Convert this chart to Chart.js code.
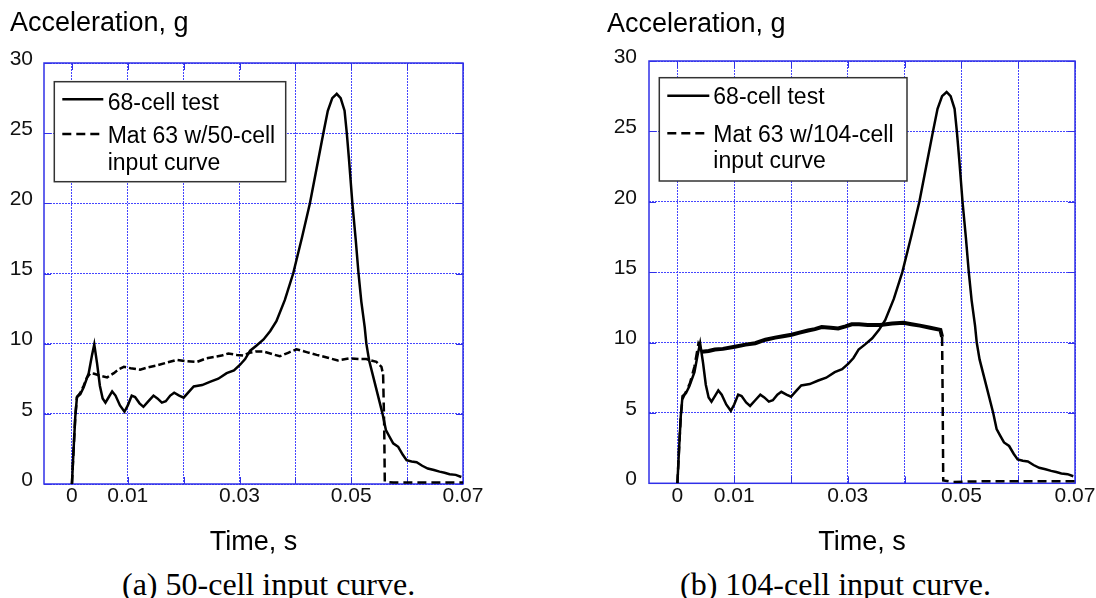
<!DOCTYPE html>
<html>
<head>
<meta charset="utf-8">
<script src="https://cdn.jsdelivr.net/npm/chart.js@4.4.1/dist/chart.umd.min.js"></script>
<style>
body { margin: 0; background: #fff; }
#page { position: relative; width: 1096px; height: 598px; overflow: hidden; font-family: 'Liberation Sans', Arial, sans-serif; }
canvas { position: absolute; top: 0; }
.ylab { position: absolute; font-size: 27px; line-height: 27px; color: #000; white-space: nowrap; }
.cap { position: absolute; font-family: 'Liberation Serif', 'Times New Roman', serif; font-size: 32px; line-height: 32px; color: #000; white-space: nowrap; }
</style>
</head>
<body>
<div id="page">
  <canvas id="chartA" width="548" height="560" style="left:0; width:548px; height:560px"></canvas>
  <canvas id="chartB" width="548" height="560" style="left:548px; width:548px; height:560px"></canvas>
  <div class="ylab" style="left:10px; top:9px">Acceleration, g</div>
  <div class="ylab" style="left:607px; top:10px">Acceleration, g</div>
  <div class="cap" style="left:122px; top:568px">(a) 50-cell input curve.</div>
  <div class="cap" style="left:680px; top:568px">(b) 104-cell input curve.</div>
</div>
<script>
// 68-cell test (same in both panels), time in s, acceleration in g
var testTime = [0, 0.0003, 0.0006, 0.0009, 0.0015, 0.0021, 0.003, 0.0036, 0.004, 0.0045,
  0.005, 0.0055, 0.006, 0.0066, 0.0072, 0.0078, 0.0086, 0.0094, 0.01, 0.0107,
  0.0113, 0.0121, 0.0128, 0.0137, 0.0146, 0.0153, 0.0161, 0.0168, 0.0176, 0.0183,
  0.0192, 0.02, 0.021, 0.0218, 0.0233, 0.0248, 0.0262, 0.0277, 0.029, 0.0301,
  0.031, 0.0319, 0.033, 0.0343, 0.0355, 0.0366, 0.0381, 0.0396, 0.0412, 0.0426,
  0.0438, 0.045, 0.0458, 0.0466, 0.0474, 0.0481, 0.0488, 0.0492, 0.0496, 0.0502,
  0.0508, 0.0513, 0.0518, 0.0524, 0.0527, 0.0532, 0.0544, 0.0556, 0.0562, 0.0568,
  0.0575, 0.0584, 0.0592, 0.0599, 0.0608, 0.0617, 0.0627, 0.0637, 0.0648, 0.0658,
  0.0667, 0.0676, 0.0687, 0.0697];
var testAccel = [0, 2.5, 4.8, 6.2, 6.4, 6.9, 7.9, 9.2, 9.95, 8.6,
  7.0, 6.1, 5.8, 6.2, 6.6, 6.3, 5.6, 5.15, 5.6, 6.3,
  6.2, 5.75, 5.5, 5.9, 6.3, 6.1, 5.8, 5.9, 6.3, 6.5,
  6.3, 6.15, 6.6, 6.95, 7.05, 7.3, 7.5, 7.9, 8.1, 8.5,
  8.9, 9.5, 9.85, 10.3, 10.9, 11.6, 13.1, 15.0, 17.6, 20.0,
  22.5, 25.0, 26.6, 27.5, 27.8, 27.5, 26.6, 25.0, 23.1, 20.0,
  17.4, 15.0, 13.0, 11.2, 10.0, 8.8, 6.9, 5.0, 3.85, 3.4,
  2.9, 2.65, 2.1, 1.7, 1.6, 1.55, 1.3, 1.1, 1.0, 0.88,
  0.8, 0.7, 0.65, 0.5];

// Mat 63 w/50-cell input curve
var mat50Time = [0, 0.0003, 0.0006, 0.0009, 0.0015, 0.0021, 0.0027, 0.0033, 0.004, 0.0052,
  0.0063, 0.0075, 0.0085, 0.0093, 0.0105, 0.0122, 0.0135, 0.0152, 0.017, 0.0188,
  0.0205, 0.0224, 0.024, 0.0254, 0.0268, 0.028, 0.0295, 0.0307, 0.0318, 0.033,
  0.0342, 0.0355, 0.0372, 0.0387, 0.0402, 0.042, 0.0438, 0.0458, 0.0476, 0.0497,
  0.0515, 0.0527, 0.0545, 0.0554, 0.0557, 0.0559, 0.056, 0.0575, 0.0625, 0.07];
var mat50Accel = [0, 2.5, 4.8, 6.2, 6.5, 7.0, 7.6, 7.9, 7.85, 7.7,
  7.6, 7.9, 8.2, 8.35, 8.25, 8.15, 8.3, 8.45, 8.65, 8.85,
  8.75, 8.7, 8.95, 9.05, 9.15, 9.3, 9.2, 9.15, 9.35, 9.45,
  9.45, 9.3, 9.1, 9.35, 9.6, 9.4, 9.2, 9.0, 8.8, 8.95,
  8.9, 8.9, 8.7, 8.35, 7.8, 4.0, 0.15, 0.1, 0.1, 0.1];

// Mat 63 w/104-cell input curve
var mat104Time = [0, 0.0003, 0.0006, 0.0009, 0.0015, 0.0022, 0.003, 0.0037, 0.0043, 0.0055,
  0.0066, 0.008, 0.0101, 0.012, 0.0137, 0.0155, 0.0172, 0.0186, 0.0201, 0.0215,
  0.023, 0.0242, 0.0254, 0.027, 0.0283, 0.0296, 0.0307, 0.032, 0.0335, 0.0357,
  0.0378, 0.0398, 0.0412, 0.0427, 0.0445, 0.0463, 0.0466, 0.0467, 0.0468, 0.0485,
  0.055, 0.07];
var mat104Accel = [0, 2.5, 4.8, 6.0, 6.5, 7.1, 8.3, 9.9, 9.35, 9.4,
  9.5, 9.55, 9.7, 9.85, 9.95, 10.2, 10.35, 10.45, 10.55, 10.7,
  10.85, 10.95, 11.1, 11.05, 11.0, 11.15, 11.3, 11.3, 11.25, 11.25,
  11.35, 11.4, 11.3, 11.2, 11.05, 10.9, 10.4, 6.0, 0.2, 0.1,
  0.15, 0.15];

var xTicks = [0, 0.01, 0.02, 0.03, 0.04, 0.05, 0.06, 0.07];
var xTickLabels = ['0', '0.01', '', '0.03', '', '0.05', '', '0.07'];
var yTicks = [0, 5, 10, 15, 20, 25, 30];

var frameBlue = 'rgb(48, 48, 232)';
var gridBlue = 'rgb(70, 70, 255)';
Chart.defaults.font.family = "'Liberation Sans', Arial, sans-serif";
Chart.defaults.color = '#000';

function pairs(xs, ys) {
  return xs.map(function (x, i) { return {x: x, y: ys[i]}; });
}

// solid blue frame with short inward ticks at each grid line
var framePlugin = {
  id: 'frame',
  beforeDatasetsDraw: function (chart) {
    var a = chart.chartArea, ctx = chart.ctx;
    ctx.save();
    ctx.strokeStyle = frameBlue;
    ctx.lineWidth = 1;
    ctx.beginPath();
    xTicks.forEach(function (v) {
      var px = Math.round(chart.scales.x.getPixelForValue(v)) + 0.5;
      ctx.moveTo(px, a.bottom); ctx.lineTo(px, a.bottom - 7);
      ctx.moveTo(px, a.top); ctx.lineTo(px, a.top + 7);
    });
    yTicks.forEach(function (v) {
      var py = Math.round(chart.scales.y.getPixelForValue(v)) + 0.5;
      ctx.moveTo(a.left, py); ctx.lineTo(a.left + 7, py);
      ctx.moveTo(a.right, py); ctx.lineTo(a.right - 7, py);
    });
    ctx.stroke();
    ctx.lineWidth = 1.5;
    ctx.strokeRect(a.left, a.top, a.right - a.left, a.bottom - a.top);
    ctx.restore();
  }
};

// boxed legend inside the plot, labels may span two lines
var boxLegend = {
  id: 'boxLegend',
  afterDatasetsDraw: function (chart, args, opts) {
    var a = chart.chartArea, ctx = chart.ctx;
    var x0 = a.left + opts.x, y0 = a.top + opts.y;
    ctx.save();
    ctx.fillStyle = '#fff';
    ctx.fillRect(x0, y0, opts.w, opts.h);
    ctx.strokeStyle = '#333';
    ctx.lineWidth = 1.5;
    ctx.strokeRect(x0, y0, opts.w, opts.h);
    ctx.font = "23px 'Liberation Sans', Arial, sans-serif";
    ctx.textBaseline = 'alphabetic';
    chart.data.datasets.forEach(function (ds, i) {
      var row = opts.rows[i];
      ctx.strokeStyle = '#000';
      ctx.lineWidth = 2.5;
      ctx.setLineDash(ds.borderDash || []);
      ctx.beginPath();
      ctx.moveTo(a.left + opts.lineX0, a.top + row.lineY);
      ctx.lineTo(a.left + opts.lineX1, a.top + row.lineY);
      ctx.stroke();
      ctx.setLineDash([]);
      ctx.fillStyle = '#000';
      [].concat(ds.label).forEach(function (t, j) {
        ctx.fillText(t, a.left + opts.textX, a.top + row.base[j]);
      });
    });
    ctx.restore();
  }
};

function makeChart(id, matLabel, matTime, matAccel, cfg) {
  return new Chart(document.getElementById(id), {
    type: 'line',
    data: {
      datasets: [{
        label: '68-cell test',
        data: pairs(testTime, testAccel),
        borderColor: '#000',
        borderWidth: 2.5,
        pointRadius: 0
      }, {
        label: matLabel,
        data: pairs(matTime, matAccel),
        borderColor: '#000',
        borderWidth: 2.5,
        borderDash: [9, 5],
        pointRadius: 0,
        segment: cfg.segment
      }]
    },
    options: {
      responsive: false,
      animation: false,
      layout: { padding: cfg.padding },
      plugins: {
        legend: { display: false },
        tooltip: { enabled: false },
        boxLegend: cfg.legend
      },
      scales: {
        x: {
          type: 'linear',
          min: -0.005,
          max: 0.07,
          afterBuildTicks: function (s) { s.ticks = xTicks.map(function (v) { return {value: v}; }); },
          afterFit: function (s) { s.height = 75; },
          ticks: {
            padding: 0, autoSkip: false, maxRotation: 0, color: '#111', font: { size: 21 },
            callback: function (v, i) { return xTickLabels[i]; }
          },
          grid: { color: gridBlue, lineWidth: 1, drawTicks: false },
          border: { display: false, dash: [2, 1] },
          title: { display: true, text: 'Time, s', font: { size: 27 }, color: '#000', padding: 0 }
        },
        y: {
          min: 0,
          max: 30,
          afterBuildTicks: function (s) { s.ticks = yTicks.map(function (v) { return {value: v}; }); },
          afterFit: function (s) { s.width = cfg.yWidth; },
          ticks: { padding: cfg.yPad, labelOffset: -4, color: '#111', font: { size: 21 } },
          grid: { color: gridBlue, lineWidth: 1, drawTicks: false },
          border: { display: false, dash: [2, 1] }
        }
      }
    },
    plugins: [framePlugin, boxLegend]
  });
}

var chartA = makeChart('chartA', ['Mat 63 w/50-cell', 'input curve'], mat50Time, mat50Accel, {
  padding: { left: 0, right: 85, top: 63, bottom: 1 },
  yWidth: 44,
  yPad: 11,
  segment: {
    borderDash: function (ctx) { return (ctx.p0.parsed.y > 6 && ctx.p1.parsed.y > 6) ? [7, 3] : undefined; }
  },
  legend: { x: 10.3, y: 18.7, w: 231.4, h: 100, lineX0: 18.3, lineX1: 59.3, textX: 63.7,
    rows: [{ lineY: 36.3, base: [47] }, { lineY: 71, base: [80.3, 107] }] }
});

var chartB = makeChart('chartB', ['Mat 63 w/104-cell', 'input curve'], mat104Time, mat104Accel, {
  padding: { left: 0, right: 21, top: 61, bottom: 1.7 },
  yWidth: 101,
  yPad: 12,
  segment: {
    borderDash: function (ctx) { return (ctx.p0.parsed.x > 0.004 && ctx.p1.parsed.y > 9) ? [] : undefined; },
    borderWidth: function (ctx) { return (ctx.p0.parsed.x > 0.004 && ctx.p1.parsed.y > 9) ? 4 : undefined; }
  },
  legend: { x: 10.3, y: 16.7, w: 247.7, h: 103.3, lineX0: 18.3, lineX1: 60.3, textX: 64.3,
    rows: [{ lineY: 34.7, base: [43.3] }, { lineY: 72.3, base: [80.7, 107.3] }] }
});
</script>
</body>
</html>
